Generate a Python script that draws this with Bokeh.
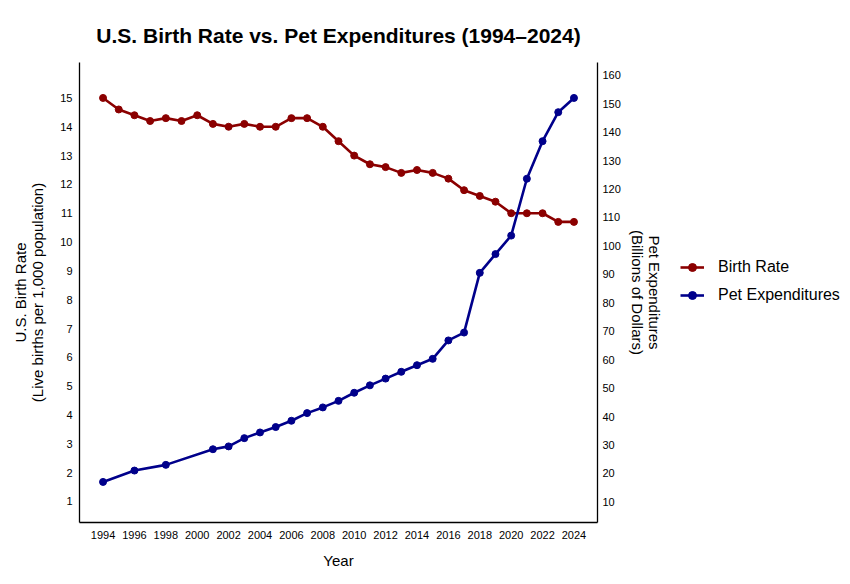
from bokeh.plotting import figure
from bokeh.layouts import row
from bokeh.models import Range1d, LinearAxis, Legend, LegendItem, FixedTicker
from bokeh.embed import file_html
from bokeh.resources import INLINE

years_birth = list(range(1994, 2025))
birth_rate = [15.0, 14.6, 14.4, 14.2, 14.3, 14.2, 14.4, 14.1, 14.0, 14.1,
              14.0, 14.0, 14.3, 14.3, 14.0, 13.5, 13.0, 12.7, 12.6, 12.4,
              12.5, 12.4, 12.2, 11.8, 11.6, 11.4, 11.0, 11.0, 11.0, 10.7, 10.7]
years_pet = [1994, 1996, 1998, 2001, 2002, 2003, 2004, 2005, 2006, 2007, 2008,
             2009, 2010, 2011, 2012, 2013, 2014, 2015, 2016, 2017, 2018, 2019,
             2020, 2021, 2022, 2023, 2024]
pet_exp = [17.0, 21.0, 23.0, 28.5, 29.5, 32.4, 34.4, 36.3, 38.5, 41.2, 43.2,
           45.5, 48.35, 50.96, 53.33, 55.72, 58.04, 60.28, 66.75, 69.51, 90.5,
           97.1, 103.6, 123.6, 136.8, 147.0, 152.0]
x_ticks = list(range(1994, 2025, 2))
left_ticks = list(range(1, 16))
right_ticks = list(range(10, 161, 10))

FONT = "Liberation Sans"
RED = "#8B0000"
BLUE = "#00008B"

ratio = 152.0 / 15.0
y0, y1 = 0.27, 16.23

p = figure(frame_width=518, frame_height=460, output_backend="svg", toolbar_location=None,
           x_range=Range1d(1992.5, 2025.5), y_range=Range1d(y0, y1),
           min_border_left=79, min_border_right=80, min_border_top=62,
           min_border_bottom=58)
p.extra_y_ranges = {"pet": Range1d(y0 * ratio, y1 * ratio)}

p.title.text = "U.S. Birth Rate vs. Pet Expenditures (1994\u20132024)"
p.title.align = "center"
p.title.text_font = FONT
p.title.text_font_size = "21px"
p.title.text_font_style = "bold"
p.title.text_color = "black"
p.title.offset = 3
p.title.standoff = 31

p.grid.visible = False
p.outline_line_color = None
p.background_fill_color = "white"
p.border_fill_color = "white"

r1 = p.line(years_birth, birth_rate, line_color=RED, line_width=2.6)
r2 = p.scatter(years_birth, birth_rate, size=7, fill_color=RED, line_color=RED)
r3 = p.line(years_pet, pet_exp, line_color=BLUE, line_width=2.6, y_range_name="pet")
r4 = p.scatter(years_pet, pet_exp, size=7, fill_color=BLUE, line_color=BLUE, y_range_name="pet")

right = LinearAxis(y_range_name="pet")
p.add_layout(right, "right")

p.xaxis.ticker = FixedTicker(ticks=x_ticks)
p.yaxis[0].ticker = FixedTicker(ticks=left_ticks)
right.ticker = FixedTicker(ticks=right_ticks)

p.xaxis.axis_label = "Year"
p.yaxis[0].axis_label = "U.S. Birth Rate\n(Live births per 1,000 population)"
right.axis_label = "Pet Expenditures\n(Billions of Dollars)"

for ax in [p.xaxis[0], p.yaxis[0], right]:
    ax.major_tick_line_color = None
    ax.minor_tick_line_color = None
    ax.major_tick_out = 0
    ax.major_tick_in = 0
    ax.minor_tick_out = 0
    ax.minor_tick_in = 0
    ax.axis_line_color = "black"
    ax.axis_line_width = 1.3
    ax.major_label_text_font = FONT
    ax.major_label_text_font_size = "11px"
    ax.major_label_text_color = "black"
    ax.axis_label_text_font = FONT
    ax.axis_label_text_font_size = "15px"
    ax.axis_label_text_font_style = "normal"
    ax.axis_label_text_color = "black"
    ax.axis_label_text_line_height = 1.0

p.xaxis[0].major_label_standoff = 8
p.xaxis[0].axis_label_standoff = 10
p.yaxis[0].major_label_standoff = 7
p.yaxis[0].axis_label_standoff = 11
right.major_label_standoff = 5
right.axis_label_standoff = 5

# legend panel: a second figure whose view holds only the legend
main_width = 79 + 518 + 80
lg = figure(width=846 - main_width, height=580, output_backend="svg", toolbar_location=None,
            x_range=Range1d(0, 1), y_range=Range1d(0, 1),
            x_axis_location=None, y_axis_location=None, min_border=0)
lg.grid.visible = False
lg.outline_line_color = None
lg.background_fill_color = "white"
lg.border_fill_color = "white"
l1 = lg.line(years_birth, birth_rate, line_color=RED, line_width=2.6)
l2 = lg.scatter(years_birth, birth_rate, size=7, fill_color=RED, line_color=RED)
l3 = lg.line(years_pet, pet_exp, line_color=BLUE, line_width=2.6)
l4 = lg.scatter(years_pet, pet_exp, size=7, fill_color=BLUE, line_color=BLUE)

legend = Legend(items=[LegendItem(label="Birth Rate", renderers=[l1, l2]),
                       LegendItem(label="Pet Expenditures", renderers=[l3, l4])],
                location=(3, 217), label_text_font=FONT, label_text_font_size="16px",
                label_text_color="black",
                border_line_color=None, background_fill_alpha=0,
                glyph_width=24, glyph_height=20, label_standoff=14,
                spacing=8, margin=0, padding=0)
lg.add_layout(legend, "center")

layout = row(p, lg)
open("out.html", "w").write(file_html(layout, INLINE))
